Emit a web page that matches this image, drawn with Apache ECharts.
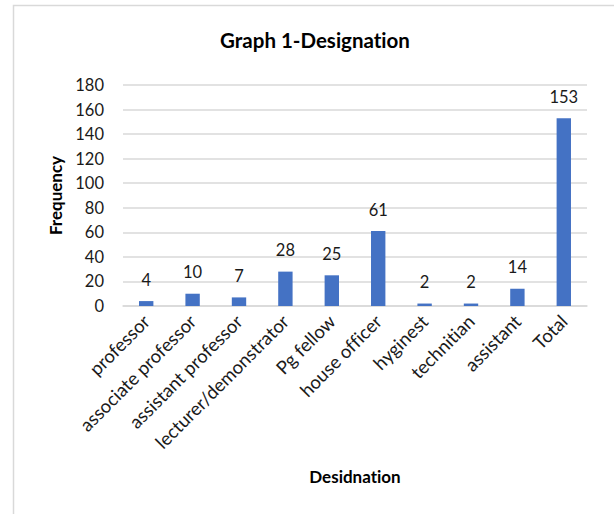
<!DOCTYPE html>
<html>
<head>
<meta charset="utf-8">
<script src="https://cdn.jsdelivr.net/npm/echarts@6/dist/echarts.min.js"></script>
<style>
  html, body { margin: 0; padding: 0; background: #fff; }
  #chart { width: 614px; height: 514px; }
  #chart text { font-variant-ligatures: none; }
</style>
</head>
<body>
<div id="chart"></div>
<script>
// Staff counts by designation
const categories = ['professor', 'associate professor', 'assistant professor', 'lecturer/demonstrator',
  'Pg fellow', 'house officer', 'hyginest', 'technitian', 'assistant', 'Total'];
const frequency = [4, 10, 7, 28, 25, 61, 2, 2, 14, 153];
const yTicks = [0, 20, 40, 60, 80, 100, 120, 140, 160, 180];

const FONT = 'Lato';
const chart = echarts.init(document.getElementById('chart'), null, { renderer: 'svg' });

chart.setOption({
  animation: false,
  backgroundColor: '#ffffff',
  title: {
    text: 'Graph 1-Designation',
    left: 310,
    top: 24,
    textAlign: 'center',
    textStyle: { fontFamily: FONT, fontSize: 20.5, fontWeight: 'bold', color: '#000' }
  },
  graphic: [{
    type: 'rect',
    shape: { x: 13.5, y: 5.5, width: 700, height: 600 },
    style: { fill: 'none', stroke: '#d9d9d9', lineWidth: 1.5 },
    silent: true
  }],
  grid: { left: 123, right: 27, top: 85, bottom: 208, containLabel: false },
  xAxis: {
    type: 'category',
    data: categories,
    name: 'Desidnation',
    nameLocation: 'middle',
    nameGap: 162,
    nameTextStyle: { fontFamily: FONT, fontSize: 17, fontWeight: 'bold', color: '#000' },
    axisLine: { lineStyle: { color: '#d9d9d9', width: 1.5 } },
    axisTick: { show: false },
    axisLabel: {
      interval: 0,
      rotate: 45,
      margin: 12,
      fontFamily: FONT,
      fontSize: 18.5,
      color: '#1a1a1a'
    }
  },
  yAxis: {
    type: 'value',
    min: 0,
    max: 180,
    interval: 20,
    name: 'Frequency',
    nameLocation: 'middle',
    nameGap: 55,
    nameRotate: 90,
    nameTextStyle: { fontFamily: FONT, fontSize: 17, fontWeight: 'bold', color: '#000' },
    axisLine: { show: false },
    axisTick: { show: false },
    axisLabel: {
      margin: 19,
      fontFamily: FONT,
      fontSize: 16.5,
      color: '#1a1a1a',
      formatter: v => (yTicks.includes(v) ? String(v) : '')
    },
    splitLine: { lineStyle: { color: '#d9d9d9', width: 1.5 } }
  },
  series: [{
    type: 'bar',
    data: frequency,
    barWidth: '31%',
    itemStyle: { color: '#4472C4' },
    label: {
      show: true,
      position: 'top',
      distance: 13,
      fontFamily: FONT,
      fontSize: 16.5,
      color: '#1a1a1a'
    }
  }]
});
</script>
</body>
</html>
